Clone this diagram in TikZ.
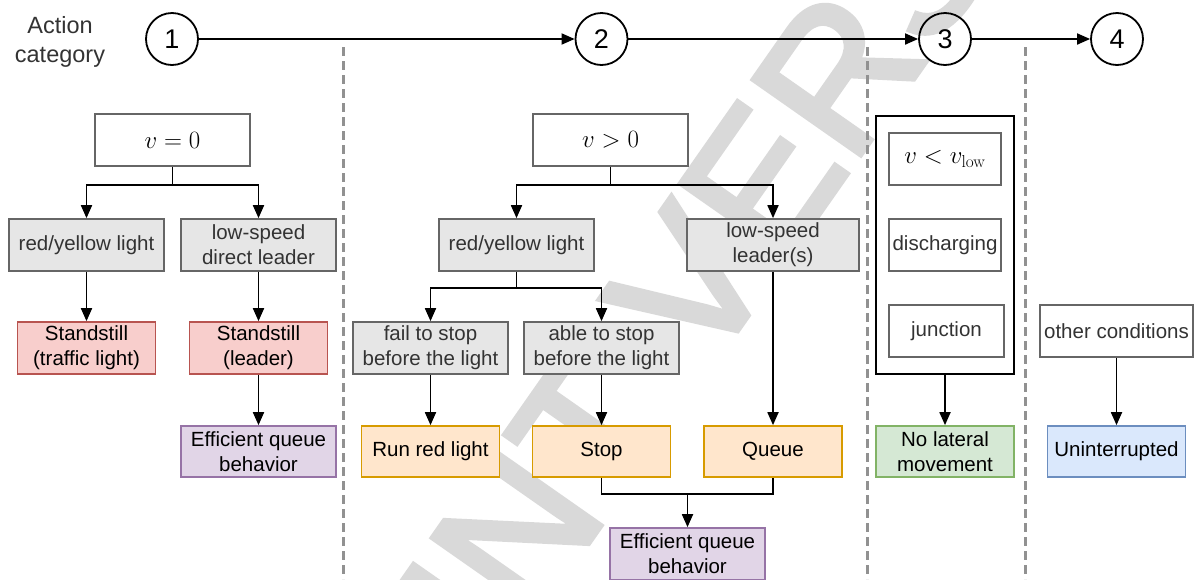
\documentclass[tikz,border=0pt]{standalone}
\usepackage[no-math]{fontspec}
\setmainfont{Liberation Sans}
\newfontfamily\wmfont[FakeBold=3]{Liberation Sans}
\usetikzlibrary{arrows.meta}

\definecolor{wmgray}{RGB}{217,217,217}
\definecolor{bordergray}{RGB}{102,102,102}
\definecolor{fillgray}{RGB}{230,230,230}
\definecolor{txtgray}{RGB}{51,51,51}
\definecolor{sepgray}{RGB}{145,145,145}
\definecolor{redfill}{HTML}{F8CECC}\definecolor{redline}{HTML}{B85450}
\definecolor{purfill}{HTML}{E1D5E7}\definecolor{purline}{HTML}{9673A6}
\definecolor{orfill}{HTML}{FFE6CC}\definecolor{orline}{HTML}{D79B00}
\definecolor{grfill}{HTML}{D5E8D4}\definecolor{grline}{HTML}{82B366}
\definecolor{blfill}{HTML}{DAE8FC}\definecolor{blline}{HTML}{6C8EBF}

\begin{document}
\begin{tikzpicture}[x=1pt,y=-1pt,
  flowbox/.style={draw, line width=1.7pt, align=center, inner sep=0pt,
    minimum height=52pt, font=\fontsize{20.5}{25}\selectfont},
  graybox/.style={flowbox, draw=bordergray, fill=fillgray, text=txtgray},
  whitebox/.style={flowbox, draw=bordergray, fill=white, text=txtgray},
  mathbox/.style={flowbox, draw=bordergray, fill=white, font=\fontsize{24}{28}\selectfont},
  redbox/.style={flowbox, draw=redline, fill=redfill},
  purbox/.style={flowbox, draw=purline, fill=purfill},
  orbox/.style={flowbox, draw=orline, fill=orfill},
  grbox/.style={flowbox, draw=grline, fill=grfill},
  blbox/.style={flowbox, draw=blline, fill=blfill},
  groupbox/.style={draw=black, line width=2.2pt, inner sep=0pt},
  stagecircle/.style={circle, draw, line width=1.8pt, minimum size=52pt, inner sep=0pt,
    font=\fontsize{27}{30}\selectfont},
  arr/.style={line width=1.8pt, -{Triangle[length=13pt,width=11pt]}},
  wire/.style={line width=1.8pt},
  divider/.style={draw=sepgray, line width=3pt, dash pattern=on 9pt off 5pt},
]
\useasboundingbox (0,0) rectangle (1194,579);

% background watermark
\begin{scope}
  \clip (0,0) rectangle (1194,579);
  \node[anchor=base west, inner sep=0pt, rotate=55, text=wmgray,
        font=\wmfont\fontsize{190}{190}\selectfont] (wm) at (125,1205) {PREPRINT VERSION};
\end{scope}

% column dividers
\coordinate (d1t) at (343,47);   \coordinate (d1b) at (343,579);
\coordinate (d2t) at (867,47);   \coordinate (d2b) at (867,579);
\coordinate (d3t) at (1025,47);  \coordinate (d3b) at (1025,579);
\draw[divider] (d1t) -- (d1b);
\draw[divider] (d2t) -- (d2b);
\draw[divider] (d3t) -- (d3b);

% action category timeline
\node[font=\fontsize{23.5}{29}\selectfont, text=txtgray, align=center] (cat) at (60,42) {Action\\category};
\node[stagecircle] (c1) at (172,39) {1};
\node[stagecircle] (c2) at (601.5,39) {2};
\node[stagecircle] (c3) at (945,39) {3};
\node[stagecircle] (c4) at (1117,39) {4};
\draw[arr] (c1) -- (c2);
\draw[arr] (c2) -- (c3);
\draw[arr] (c3) -- (c4);

% category 1
\node[mathbox, minimum width=155pt] (v0) at (172.5,140) {$v=0$};
\node[graybox, minimum width=155pt] (ry1) at (86.5,245) {red/yellow light};
\node[graybox, minimum width=155pt] (ls1) at (258.5,245) {low-speed\\direct leader};
\node[redbox, minimum width=138pt] (st1) at (86.5,348) {Standstill\\(traffic light)};
\node[redbox, minimum width=138pt] (st2) at (258.5,348) {Standstill\\(leader)};
\node[purbox, minimum width=155pt, minimum height=51pt] (eq1) at (258.5,451.5) {Efficient queue\\behavior};
\coordinate (j1) at (172.5,185);
\draw[wire] (v0.south) -- (j1);
\draw[arr] (j1) -| (ry1.north);
\draw[arr] (j1) -| (ls1.north);
\draw[arr] (ry1.south) -- (st1.north);
\draw[arr] (ls1.south) -- (st2.north);
\draw[arr] (st2.south) -- (eq1.north);

% category 2
\node[mathbox, minimum width=155pt] (v1) at (610.5,140) {$v>0$};
\node[graybox, minimum width=155pt] (ry2) at (516.5,245) {red/yellow light};
\node[graybox, minimum width=172pt] (ls2) at (773,245) {low-speed\\leader(s)};
\node[graybox, minimum width=155pt] (fail) at (430.5,348) {fail to stop\\before the light};
\node[graybox, minimum width=155pt] (able) at (601.5,348) {able to stop\\before the light};
\node[orbox, minimum width=138pt, minimum height=51pt] (run) at (430.5,451.5) {Run red light};
\node[orbox, minimum width=138pt, minimum height=51pt] (stop) at (601.5,451.5) {Stop};
\node[orbox, minimum width=138pt, minimum height=51pt] (queue) at (773,451.5) {Queue};
\node[purbox, minimum width=155pt] (eq2) at (687.5,554) {Efficient queue\\behavior};
\coordinate (j2) at (610.5,185);
\coordinate (j3) at (516.5,288);
\coordinate (j4) at (687.5,494);
\draw[wire] (v1.south) -- (j2);
\draw[arr] (j2) -| (ry2.north);
\draw[arr] (j2) -| (ls2.north);
\draw[wire] (ry2.south) -- (j3);
\draw[arr] (j3) -| (fail.north);
\draw[arr] (j3) -| (able.north);
\draw[arr] (fail.south) -- (run.north);
\draw[arr] (able.south) -- (stop.north);
\draw[arr] (ls2.south) -- (queue.north);
\draw[wire] (stop.south) |- (j4) -| (queue.south);
\draw[arr] (j4) -- (eq2.north);

% category 3
\node[groupbox, minimum width=138pt, minimum height=258pt] (grp) at (945,245) {};
\node[mathbox, minimum width=112pt] (vlow) at (945,159) {$v<v_{\mathrm{low}}$};
\node[whitebox, minimum width=112pt] (disc) at (945,245) {discharging};
\node[whitebox, minimum width=115pt] (junc) at (946.5,331) {junction};
\node[grbox, minimum width=138pt, minimum height=51pt] (nolat) at (945,451.5) {No lateral\\movement};
\draw[arr] (grp.south) -- (nolat.north);

% category 4
\node[whitebox, minimum width=153pt] (other) at (1116.5,331) {other conditions};
\node[blbox, minimum width=138pt, minimum height=51pt] (unint) at (1116.5,451.5) {Uninterrupted};
\draw[arr] (other.south) -- (unint.north);
\end{tikzpicture}
\end{document}
